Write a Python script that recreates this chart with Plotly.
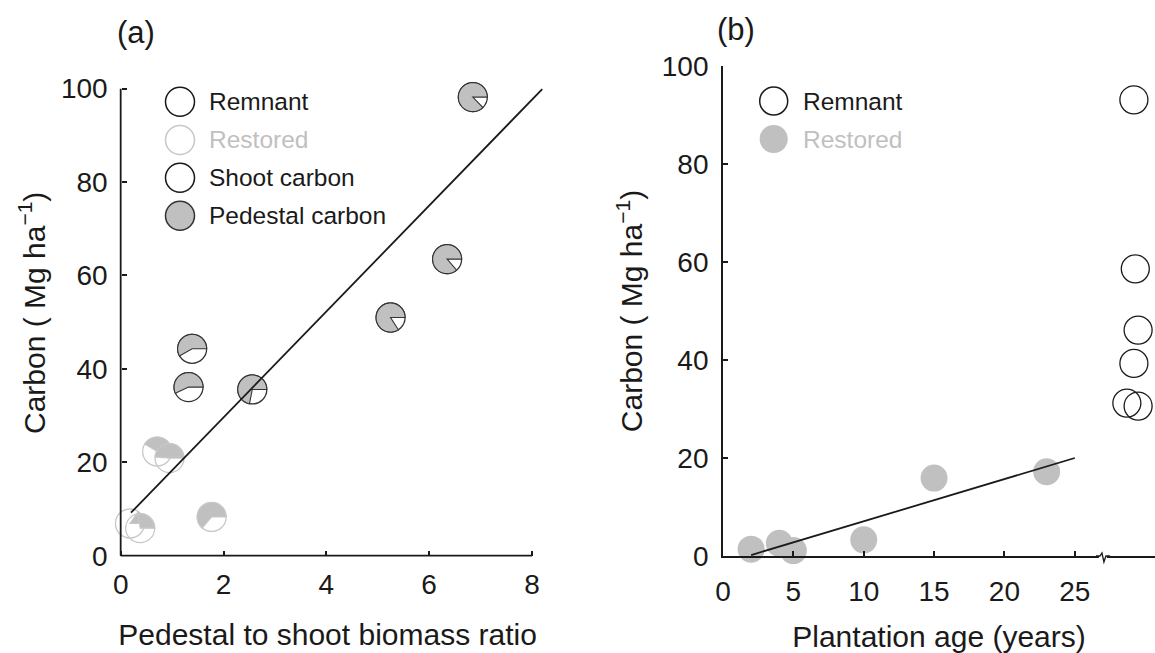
import numpy as np
import plotly.graph_objects as go

W, H = 1155, 653
FONT = "Liberation Sans, Arial, sans-serif"
INK = "#1a1a1a"
GREY = "#c0c0c0"
LIGHT_EDGE = "#c8c8c8"

# ---------------- data: panel (a) ----------------
a_rem_ratio = [6.85, 6.35, 5.25, 1.39, 1.32, 2.56]
a_rem_carbon = [98.2, 63.5, 51.0, 44.3, 36.1, 35.6]
a_res_ratio = [0.71, 0.95, 1.77, 0.18, 0.38]
a_res_carbon = [22.3, 20.9, 8.3, 6.9, 5.9]
a_fit_x = [0.2, 8.2]
a_fit_y = [9.2, 99.9]
a_xticks = [0, 2, 4, 6, 8]
a_yticks = [0, 20, 40, 60, 80, 100]

# ---------------- data: panel (b) ----------------
b_rem_age = [29.2, 29.3, 29.5, 29.2, 28.7, 29.5]
b_rem_carbon = [93.1, 58.6, 46.1, 39.3, 31.2, 30.6]
b_res_age = [2, 4, 5, 10, 15, 23]
b_res_carbon = [1.4, 2.6, 1.1, 3.3, 15.9, 17.2]
b_fit_x = [2, 25]
b_fit_y = [0.2, 20.0]
b_xticks = [0, 5, 10, 15, 20, 25]
b_yticks = [0, 20, 40, 60, 80, 100]
b_break_at = 27

# ---------------- layout geometry ----------------
A_XR = [-0.2, 8.25]
A_YR = [0, 104]
A_XD = [110.4 / W, 544.8 / W]
A_YD = [(H - 555.7) / H, (H - 70.0) / H]
A_YPOS = A_XD[0] + (0 - A_XR[0]) / (A_XR[1] - A_XR[0]) * (A_XD[1] - A_XD[0])

B_XR = [0, 30.7]
B_YR = [0, 100]
B_XD = [723 / W, 1.0]
B_YD = [(H - 556) / H, (H - 66) / H]

R = 14.5  # pie radius in px


def pie_shapes(xv, yv, edge, fill, r=R):
    frac = xv / (1.0 + xv)  # pedestal share of total carbon
    theta = 2 * np.pi * frac
    n = max(int(np.degrees(theta) / 3), 2)
    angs = np.linspace(0, theta, n + 1)
    pts = " ".join(f"L{r*np.cos(a):.2f},{r*np.sin(a):.2f}" for a in angs)
    path = f"M0,0 {pts} Z"
    common = dict(xref="x", yref="y", xsizemode="pixel", ysizemode="pixel",
                  xanchor=xv, yanchor=yv, layer="below")
    return [
        dict(type="circle", x0=-r, x1=r, y0=-r, y1=r,
             fillcolor="rgba(255,255,255,0)", line=dict(color=edge, width=1.3), **common),
        dict(type="path", path=path, fillcolor=fill,
             line=dict(color=edge, width=1.1), **common),
    ]


fig = go.Figure()

# panel (a) regression line
fig.add_trace(go.Scatter(x=a_fit_x, y=a_fit_y, mode="lines", xaxis="x", yaxis="y",
                         line=dict(color=INK, width=1.8), showlegend=False, hoverinfo="skip"))
# invisible anchors for hover on pies
fig.add_trace(go.Scatter(x=a_rem_ratio + a_res_ratio, y=a_rem_carbon + a_res_carbon,
                         mode="markers", xaxis="x", yaxis="y",
                         marker=dict(size=1, opacity=0), showlegend=False))

# panel (b)
fig.add_trace(go.Scatter(x=b_res_age, y=b_res_carbon, mode="markers", xaxis="x2", yaxis="y2",
                         marker=dict(size=27, color=GREY, line=dict(width=0)),
                         cliponaxis=False, showlegend=False, name="Restored"))
fig.add_trace(go.Scatter(x=b_fit_x, y=b_fit_y, mode="lines", xaxis="x2", yaxis="y2",
                         line=dict(color=INK, width=1.8), showlegend=False, hoverinfo="skip"))
fig.add_trace(go.Scatter(x=b_rem_age, y=b_rem_carbon, mode="markers", xaxis="x2", yaxis="y2",
                         marker=dict(size=28, symbol="circle-open", color=INK,
                                     line=dict(width=1.3, color=INK)),
                         cliponaxis=False, showlegend=False, name="Remnant"))

shapes = []
for xv, yv in zip(a_res_ratio, a_res_carbon):
    shapes += pie_shapes(xv, yv, LIGHT_EDGE, GREY)
for xv, yv in zip(a_rem_ratio, a_rem_carbon):
    shapes += pie_shapes(xv, yv, "#333333", GREY)

# panel (a) axis lines (limited to 0..8 and 0..100)
shapes.append(dict(type="line", xref="x", yref="y domain", x0=0, x1=8, y0=0, y1=0,
                   line=dict(color=INK, width=1.8)))
shapes.append(dict(type="line", xref="x", yref="y", x0=0, x1=0, y0=0, y1=100,
                   line=dict(color=INK, width=1.8)))

# panel (b) axis break
brk = dict(xref="x2", yref="y2 domain", xsizemode="pixel", ysizemode="pixel",
           xanchor=b_break_at, yanchor=0)
shapes.append(dict(type="line", x0=-4, x1=4, y0=0, y1=0, line=dict(color="white", width=4), **brk))
shapes.append(dict(type="path", path="M-7,0 L-3,0 L-1,3 L1,-6 L3,0 L7,0",
                   line=dict(color=INK, width=1.3), **brk))

# legends (manual, large symbols)
def px(xp):
    return xp / W


def py(yp):
    return 1 - yp / H


def leg_circle(cx, cy, edge, fill, r=14.5):
    return dict(type="circle", xref="paper", yref="paper", xsizemode="pixel", ysizemode="pixel",
                xanchor=px(cx), yanchor=py(cy), x0=-r, x1=r, y0=-r, y1=r,
                fillcolor=fill, line=dict(color=edge, width=1.5))


a_leg = [("Remnant", INK, "rgba(0,0,0,0)", INK),
         ("Restored", LIGHT_EDGE, "rgba(0,0,0,0)", GREY),
         ("Shoot carbon", INK, "rgba(0,0,0,0)", INK),
         ("Pedestal carbon", "#333333", GREY, INK)]
a_leg_y = [101.7, 140.0, 177.7, 215.7]
annotations = []
for (lab, edge, fill, tc), yy in zip(a_leg, a_leg_y):
    shapes.append(leg_circle(180, yy, edge, fill))
    annotations.append(dict(text=lab, x=px(207), y=py(yy), xref="paper", yref="paper",
                            xanchor="left", yanchor="middle", showarrow=False,
                            font=dict(family=FONT, size=24.5, color=tc)))

b_leg = [("Remnant", INK, "rgba(0,0,0,0)", INK, 1.5),
         ("Restored", GREY, GREY, GREY, 0)]
b_leg_y = [101.0, 139.0]
for (lab, edge, fill, tc, lw), yy in zip(b_leg, b_leg_y):
    s = leg_circle(773.7, yy, edge, fill, r=14)
    s["line"]["width"] = lw if lw else 0.1
    shapes.append(s)
    annotations.append(dict(text=lab, x=px(801), y=py(yy), xref="paper", yref="paper",
                            xanchor="left", yanchor="middle", showarrow=False,
                            font=dict(family=FONT, size=24.5, color=tc)))

annotations.append(dict(text="(a)", x=px(136), y=py(32), xref="paper", yref="paper",
                        xanchor="center", yanchor="middle", showarrow=False,
                        font=dict(family=FONT, size=31, color=INK)))
annotations.append(dict(text="(b)", x=px(736), y=py(29), xref="paper", yref="paper",
                        xanchor="center", yanchor="middle", showarrow=False,
                        font=dict(family=FONT, size=31, color=INK)))

tickfont = dict(family=FONT, size=28, color=INK)
titlefont = dict(family=FONT, size=30, color=INK)
ytitle = "Carbon ( Mg ha<sup>\u22121</sup>)"

fig.update_layout(
    width=W, height=H, autosize=False,
    margin=dict(l=0, r=0, t=0, b=0),
    paper_bgcolor="white", plot_bgcolor="rgba(0,0,0,0)",
    showlegend=False,
    shapes=shapes, annotations=annotations,
    xaxis=dict(domain=A_XD, range=A_XR, anchor="y", showline=False, showgrid=False,
               zeroline=False, tickvals=a_xticks, ticks="inside", ticklen=5, tickwidth=1.5,
               tickcolor=INK, tickfont=tickfont, automargin=False, ticklabelstandoff=9,
               title=dict(text="Pedestal to shoot biomass ratio", font=titlefont, standoff=25)),
    yaxis=dict(domain=A_YD, range=A_YR, anchor="free", position=A_YPOS, showline=False,
               showgrid=False, zeroline=False, tickvals=a_yticks, ticks="inside", ticklen=5,
               tickwidth=1.5, tickcolor=INK, tickfont=tickfont, automargin=False,
               ticklabelstandoff=13,
               title=dict(text=ytitle, font=titlefont, standoff=5)),
    xaxis2=dict(domain=B_XD, range=B_XR, anchor="y2", showline=True, linecolor=INK, linewidth=1.8,
                showgrid=False, zeroline=False, tickvals=b_xticks, ticks="inside", ticklen=5,
                tickwidth=1.5, tickcolor=INK, tickfont=tickfont, automargin=False,
                ticklabelstandoff=9,
                title=dict(text="Plantation age (years)", font=titlefont, standoff=25)),
    yaxis2=dict(domain=B_YD, range=B_YR, anchor="x2", showline=True, linecolor=INK, linewidth=1.8,
                showgrid=False, zeroline=False, tickvals=b_yticks, ticks="inside", ticklen=5,
                tickwidth=1.5, tickcolor=INK, tickfont=tickfont, automargin=False,
                ticklabelstandoff=7,
                title=dict(text=ytitle, font=titlefont, standoff=10)),
)

fig.write_html(
    "out.html",
    config={"displayModeBar": False},
    post_script="document.body.style.margin='0px';document.body.style.overflow='hidden';",
)
